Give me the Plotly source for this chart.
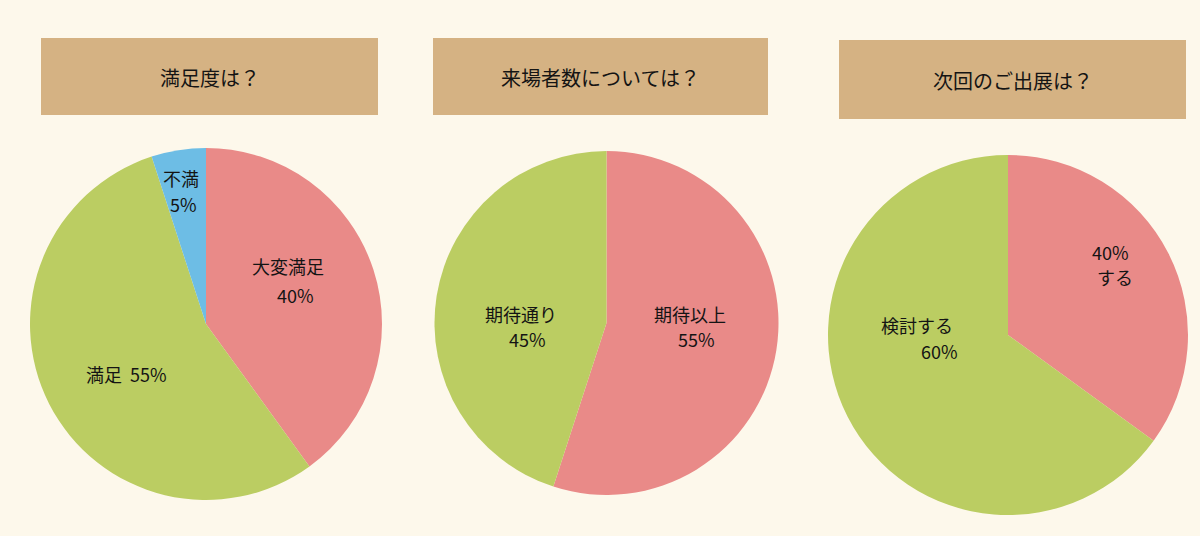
import plotly.graph_objects as go

W, H = 1200, 536

# ---- data ----
titles = ["満足度は？", "来場者数については？", "次回のご出展は？"]

q1_labels = ["大変満足", "満足", "不満"]
q1_values = [40, 55, 5]
q1_pct = ["40%", "55%", "5%"]

q2_labels = ["期待以上", "期待通り"]
q2_values = [55, 45]
q2_pct = ["55%", "45%"]

q3_labels = ["する", "検討する"]
q3_values = [35, 65]          # slice sizes as drawn
q3_pct = ["40%", "60%"]

RED, GREEN, BLUE = "#E98A88", "#BBCD62", "#6DBDE5"
q1_colors = [RED, GREEN, BLUE]
q2_colors = [RED, GREEN]
q3_colors = [RED, GREEN]

BG = "#FDF8EB"
BOX = "#D5B283"
FONT = "Noto Sans CJK JP"
TXT = "#141414"


def px_x(x):
    return x / W


def px_y(y):
    return 1 - y / H


def dom(cx, cy, r):
    return dict(x=[px_x(cx - r), px_x(cx + r)], y=[px_y(cy + r), px_y(cy - r)])


fig = go.Figure()

pies = [
    (q1_labels, q1_values, q1_colors, (206, 324, 176)),
    (q2_labels, q2_values, q2_colors, (606.5, 323, 172)),
    (q3_labels, q3_values, q3_colors, (1008, 335, 180)),
]
for labels, values, colors, (cx, cy, r) in pies:
    fig.add_trace(go.Pie(
        labels=labels, values=values, sort=False, direction="clockwise",
        rotation=0, marker=dict(colors=colors, line=dict(width=0)),
        textinfo="none", hoverinfo="label+percent", showlegend=False,
        domain=dom(cx, cy, r),
    ))

# title boxes
boxes = [(41, 38, 378, 115), (433, 38, 768, 115), (839, 40, 1186, 119)]
shapes = []
annotations = []
for (x0, y0, x1, y1), t in zip(boxes, titles):
    shapes.append(dict(type="rect", xref="paper", yref="paper",
                       x0=px_x(x0), x1=px_x(x1), y0=px_y(y1), y1=px_y(y0),
                       fillcolor=BOX, line=dict(width=0), layer="below"))
    annotations.append(dict(text=t, xref="paper", yref="paper",
                            x=px_x((x0 + x1) / 2), y=px_y((y0 + y1) / 2 + 1),
                            showarrow=False, xanchor="center", yanchor="middle",
                            font=dict(family=FONT, size=20, color=TXT)))

# slice labels, one line each (text, center x, center y)
label_pos = [
    (q1_labels[2], 181, 178),
    (q1_pct[2], 183, 204),
    (q1_labels[0], 288, 266),
    (q1_pct[0], 295, 295),
    (q1_labels[1] + "  " + q1_pct[1], 126, 374),
    (q2_labels[1], 521, 314),
    (q2_pct[1], 527, 339),
    (q2_labels[0], 690, 314),
    (q2_pct[0], 696, 339),
    (q3_pct[0], 1110, 252),
    (q3_labels[0], 1115, 277),
    (q3_labels[1], 917, 325),
    (q3_pct[1], 939, 351),
]
for txt, x, y in label_pos:
    annotations.append(dict(text=txt, xref="paper", yref="paper",
                            x=px_x(x), y=px_y(y), showarrow=False,
                            xanchor="center", yanchor="middle", align="center",
                            font=dict(family=FONT, size=18, color=TXT)))

fig.update_layout(
    width=W, height=H, margin=dict(l=0, r=0, t=0, b=0),
    paper_bgcolor=BG, plot_bgcolor=BG,
    shapes=shapes, annotations=annotations,
)

fig.write_html("out.html")
